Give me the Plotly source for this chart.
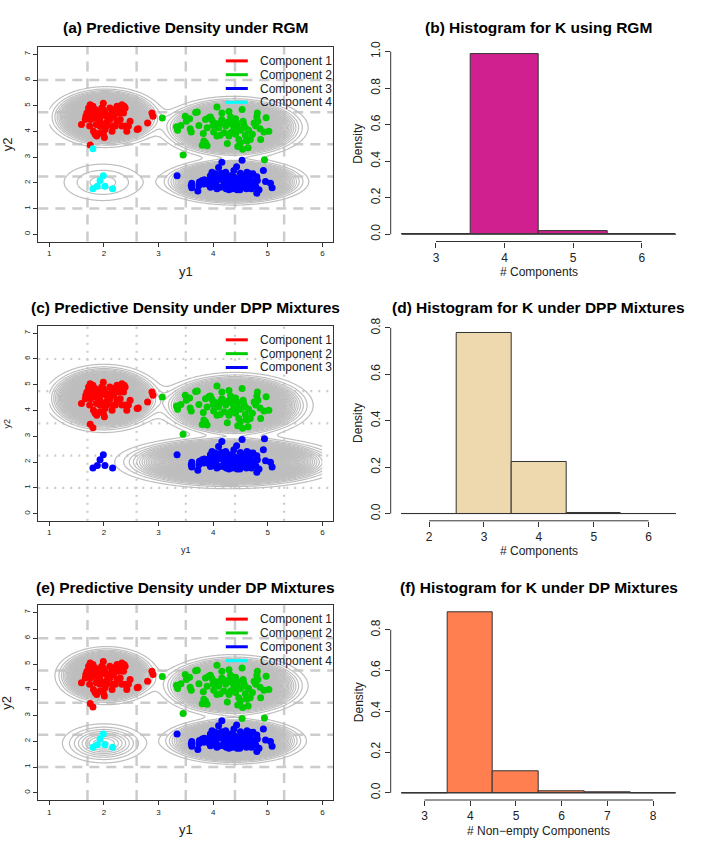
import numpy as np
import plotly.graph_objects as go

# ---- observed data (y1, y2), same points in all three scatter panels ----
red_y1 = [1.59, 1.67, 1.69, 1.72, 1.75, 1.80, 1.81, 1.84, 1.87, 1.90, 1.93, 1.96, 1.99, 1.99, 2.02,
          2.05, 2.08, 2.11, 2.15, 2.18, 2.19, 2.21, 2.24, 2.27, 2.29, 2.30, 2.33, 2.36, 2.37, 2.39,
          2.42, 2.39, 2.45, 2.48, 2.63, 2.80, 2.88, 2.90, 1.75, 1.81, 1.84, 1.87, 1.99, 2.01, 2.15,
          2.16, 1.76, 1.66, 1.74, 1.93, 2.05, 1.90, 1.96, 2.24, 2.11, 1.86, 1.78, 2.02, 2.33, 1.93,
          2.61, 1.96, 2.05, 1.85, 2.13]
red_y2 = [4.27, 4.59, 4.72, 4.91, 5.04, 4.98, 4.78, 4.85, 4.65, 4.53, 4.40, 4.27, 5.10, 4.85, 4.72,
          4.59, 4.46, 4.91, 4.78, 4.59, 4.85, 4.21, 4.40, 4.72, 4.91, 4.46, 5.04, 4.72, 4.98, 4.21,
          4.01, 4.91, 4.21, 4.40, 4.10, 4.33, 4.72, 4.59, 3.47, 4.01, 3.89, 3.82, 3.89, 3.76, 4.01,
          4.21, 4.46, 4.46, 4.21, 4.21, 4.21, 4.78, 4.91, 4.98, 4.46, 4.27, 4.65, 4.08, 4.21, 3.95,
          4.08, 4.62, 4.35, 4.52, 4.65]

green_y1 = [3.07, 3.33, 3.35, 3.41, 3.49, 3.51, 3.57, 3.58, 3.60, 3.68, 3.74, 3.82, 3.86, 3.89, 3.92,
            3.95, 3.98, 4.00, 4.04, 4.07, 4.10, 4.13, 4.13, 4.16, 4.16, 4.20, 4.23, 4.26, 4.29, 4.29,
            4.32, 4.32, 4.35, 4.35, 4.38, 4.41, 4.44, 4.44, 4.47, 4.50, 4.50, 4.53, 4.55, 4.56, 4.59,
            4.59, 4.61, 4.62, 4.65, 4.68, 4.72, 4.75, 4.78, 4.80, 4.81, 4.82, 4.86, 4.87, 4.93, 5.02,
            3.86, 3.89, 3.80, 3.83, 4.01, 4.07, 4.26, 4.45, 4.54, 4.64, 4.41, 3.45, 3.71, 4.97]
green_y2 = [4.52, 4.18, 4.05, 4.23, 4.59, 4.40, 4.49, 4.10, 3.98, 4.74, 4.23, 3.92, 4.46, 4.14, 4.53,
            4.56, 4.44, 4.23, 4.31, 4.95, 4.14, 4.33, 3.85, 4.72, 4.46, 3.95, 4.21, 4.36, 4.78, 3.82,
            4.56, 3.95, 4.27, 4.46, 4.10, 3.89, 4.33, 4.21, 3.69, 4.05, 3.56, 4.85, 4.40, 4.27, 3.85,
            4.14, 3.67, 3.63, 4.05, 3.69, 3.89, 4.33, 4.21, 4.56, 4.72, 4.40, 4.10, 3.69, 3.98, 4.01,
            3.56, 3.44, 3.46, 3.63, 3.98, 3.82, 3.53, 3.41, 3.31, 3.37, 4.49, 3.08, 4.76, 4.53]

blue_y1 = [3.34, 3.61, 3.61, 3.72, 3.75, 3.80, 3.83, 3.84, 3.95, 3.98, 4.00, 4.01, 4.04, 4.06, 4.09,
           4.10, 4.13, 4.16, 4.16, 4.20, 4.23, 4.24, 4.26, 4.29, 4.32, 4.35, 4.37, 4.38, 4.41, 4.43,
           4.44, 4.47, 4.50, 4.51, 4.55, 4.56, 4.59, 4.61, 4.62, 4.65, 4.68, 4.70, 4.73, 4.75, 4.78,
           4.81, 4.84, 4.92, 4.96, 5.05, 5.08, 3.74, 3.89, 3.92, 3.95, 4.07, 4.12, 4.15, 4.21, 4.29,
           4.33, 4.39, 4.45, 4.49, 4.57, 4.64, 4.67, 4.72, 4.80, 4.21, 4.02, 3.95, 4.32, 4.53, 4.44,
           4.80, 3.60]
blue_y2 = [2.28, 1.99, 1.81, 1.68, 2.03, 2.09, 1.96, 2.12, 2.28, 2.41, 2.19, 2.03, 2.35, 1.90, 2.12,
           2.60, 1.83, 2.80, 2.24, 1.99, 2.41, 1.77, 2.16, 1.96, 2.28, 1.77, 2.09, 2.48, 1.90, 2.63,
           1.73, 2.16, 2.37, 1.99, 1.83, 2.24, 2.09, 1.77, 2.41, 1.96, 2.19, 1.77, 2.35, 2.03, 1.86,
           2.09, 1.73, 2.48, 2.05, 1.99, 1.81, 1.90, 2.09, 1.94, 1.83, 1.77, 2.16, 2.37, 2.22, 1.73,
           2.09, 2.22, 1.94, 1.73, 1.94, 2.16, 2.35, 1.90, 2.24, 1.83, 1.86, 2.16, 1.86, 2.16, 2.03,
           1.60, 1.90]

small_y1 = [1.99, 1.93, 1.88, 1.80, 2.02, 2.16]
small_y2 = [2.28, 2.09, 1.87, 1.77, 1.87, 1.77]

odd_y1 = [1.80, 4.94, 4.53]
odd_y2 = [3.33, 2.90, 2.88]
odd_rgm = [4, 2, 3]
odd_dpp = [1, 3, 3]
odd_dp = [1, 2, 2]

# ---- fitted predictive mixtures (weights, means, sds) ----
rgm_w = [0.27, 0.37, 0.28, 0.014]
rgm_mx = [2.03, 4.37, 4.38, 1.98]
rgm_my = [4.56, 4.15, 2.05, 2.02]
rgm_sx = [0.35, 0.45, 0.45, 0.45]
rgm_sy = [0.39, 0.40, 0.30, 0.45]

dpp_w = [0.325, 0.41, 0.486]
dpp_mx = [2.00, 4.40, 4.30]
dpp_my = [4.47, 4.20, 2.00]
dpp_sx = [0.36, 0.47, 0.69]
dpp_sy = [0.435, 0.42, 0.34]

dp_w = [0.24, 0.37, 0.27, 0.024]
dp_mx = [2.05, 4.37, 4.37, 2.00]
dp_my = [4.55, 4.15, 2.02, 1.92]
dp_sx = [0.31, 0.45, 0.44, 0.36]
dp_sy = [0.37, 0.40, 0.30, 0.36]

grid_x = [1.7, 2.6, 3.5, 4.4, 5.3]
grid_y = [1.0, 2.25, 3.5, 4.75, 6.0]

# ---- histograms of K ----
rgm_breaks = [2.5, 3.5, 4.5, 5.5, 6.5]
rgm_dens = [0.0, 0.985, 0.015, 0.0]
dpp_breaks = [1.5, 2.5, 3.5, 4.5, 5.5, 6.5]
dpp_dens = [0.0, 0.777, 0.221, 0.002, 0.0]
dp_breaks = [2.5, 3.5, 4.5, 5.5, 6.5, 7.5, 8.5]
dp_dens = [0.0, 0.885, 0.108, 0.006, 0.001, 0.0]

comp_cols = ["#FF0000", "#00CD00", "#0000FF", "#00FFFF"]
FONT = "Liberation Sans, Arial, sans-serif"
W, H = 706, 847

all_y1 = red_y1 + green_y1 + blue_y1 + small_y1 + odd_y1
all_y2 = red_y2 + green_y2 + blue_y2 + small_y2 + odd_y2
base = [1] * len(red_y1) + [2] * len(green_y1) + [3] * len(blue_y1)
lab_rgm = base + [4] * len(small_y1) + odd_rgm
lab_dpp = base + [3] * len(small_y1) + odd_dpp
lab_dp = base + [4] * len(small_y1) + odd_dp

gx = np.linspace(1, 6, 251)
gy = np.linspace(0, 7, 351)
GX, GY = np.meshgrid(gx, gy)


def mix_density(w, mx, my, sx, sy):
    z = np.zeros_like(GX)
    for a, b, c, d, e in zip(w, mx, my, sx, sy):
        z += a / (2 * np.pi * d * e) * np.exp(-0.5 * (((GX - b) / d) ** 2 + ((GY - c) / e) ** 2))
    return z


def px_x(p):
    return p / W


def px_y(p):
    return 1 - p / H


fig = go.Figure()

rows = [(38.5, 235.0), (320.4, 517.3), (602.7, 799.5)]
left_dom = [px_x(38.3), px_x(333.3)]
right_dom = [px_x(390.7), px_x(687.0)]

left_panels = [
    ("(a) Predictive Density under RGM", lab_rgm, (rgm_w, rgm_mx, rgm_my, rgm_sx, rgm_sy), 4, "10px,7px", 2.5, 13),
    ("(c) Predictive Density under DPP Mixtures", lab_dpp, (dpp_w, dpp_mx, dpp_my, dpp_sx, dpp_sy), 3, "2px,6px", 2.2, 9),
    ("(e) Predictive Density under DP Mixtures", lab_dp, (dp_w, dp_mx, dp_my, dp_sx, dp_sy), 4, "10px,7px", 2.5, 13),
]
right_panels = [
    ("(b) Histogram for K using RGM", rgm_breaks, rgm_dens, "#D02090", [3, 4, 5, 6], [0, 0.2, 0.4, 0.6, 0.8, 1.0], "# Components"),
    ("(d) Histogram for K under DPP Mixtures", dpp_breaks, dpp_dens, "#EED8AE", [2, 3, 4, 5, 6], [0, 0.2, 0.4, 0.6, 0.8], "# Components"),
    ("(f) Histogram for K under DP Mixtures", dp_breaks, dp_dens, "#FF7F50", [3, 4, 5, 6, 7, 8], [0, 0.2, 0.4, 0.6, 0.8], "# Non\u2212empty Components"),
]

annotations = []
shapes = []
layout = {}
leg_rows = [0.929, 0.858, 0.787, 0.716]
title_y = [19, 301.5, 585]

for i, (title, labs, pars, K, dash, lw, lab_size) in enumerate(left_panels):
    n = 2 * i + 1
    xa, ya = ("x" if n == 1 else "x%d" % n), ("y" if n == 1 else "y%d" % n)
    top, bot = rows[i]
    layout["xaxis" if n == 1 else "xaxis%d" % n] = dict(
        domain=left_dom, anchor=ya, range=[0.8, 6.2], tickvals=[1, 2, 3, 4, 5, 6],
        showline=True, mirror=True, linecolor="#333", linewidth=1, ticks="outside",
        ticklen=4, tickcolor="#333", showgrid=False, zeroline=False,
        tickfont=dict(size=8, color="#222", family=FONT))
    layout["yaxis" if n == 1 else "yaxis%d" % n] = dict(
        domain=[px_y(bot), px_y(top)], anchor=xa, range=[-0.28, 7.28], tickvals=list(range(8)),
        showline=True, mirror=True, linecolor="#333", linewidth=1, ticks="outside",
        ticklen=4, tickcolor="#333", showgrid=False, zeroline=False, tickangle=-90,
        tickfont=dict(size=8, color="#222", family=FONT))

    for g in grid_x:
        shapes.append(dict(type="line", xref=xa, yref=ya + " domain", x0=g, x1=g, y0=0, y1=1,
                           line=dict(color="#CCCCCC", width=lw, dash=dash), layer="below"))
    for g in grid_y:
        shapes.append(dict(type="line", xref=xa + " domain", yref=ya, x0=0, x1=1, y0=g, y1=g,
                           line=dict(color="#CCCCCC", width=lw, dash=dash), layer="below"))

    z = mix_density(*pars)
    step = 0.0032
    fig.add_trace(go.Contour(
        x=gx, y=gy, z=z, xaxis=xa, yaxis=ya, showscale=False, hoverinfo="skip",
        contours=dict(coloring="lines", start=step, end=float(z.max()), size=step, showlabels=False),
        colorscale=[[0, "#BEBEBE"], [1, "#BEBEBE"]], line=dict(width=1.2, smoothing=1)))

    for k in range(1, K + 1):
        px_ = [a for a, l in zip(all_y1, labs) if l == k]
        py_ = [b for b, l in zip(all_y2, labs) if l == k]
        fig.add_trace(go.Scatter(
            x=px_, y=py_, mode="markers", xaxis=xa, yaxis=ya, showlegend=False, hoverinfo="skip",
            marker=dict(symbol="circle", size=7, color=comp_cols[k - 1], line=dict(width=0))))

    for k in range(K):
        shapes.append(dict(type="line", xref=xa + " domain", yref=ya + " domain",
                           x0=0.6356, x1=0.7102, y0=leg_rows[k], y1=leg_rows[k],
                           line=dict(color=comp_cols[k], width=3)))
        annotations.append(dict(text="Component %d" % (k + 1), xref=xa + " domain", yref=ya + " domain",
                                x=0.7441, y=leg_rows[k], xanchor="left", yanchor="middle", showarrow=False,
                                font=dict(size=12, color="#222", family=FONT)))

    annotations.append(dict(text="<b>%s</b>" % title, xref="paper", yref="paper", x=px_x(185.8),
                            y=px_y(title_y[i]), xanchor="center", yanchor="middle", showarrow=False,
                            font=dict(size=15.5, color="#000", family=FONT)))
    annotations.append(dict(text="y1", xref="paper", yref="paper", x=px_x(185.8), y=px_y(bot + 30),
                            xanchor="center", yanchor="middle", showarrow=False,
                            font=dict(size=lab_size, color="#222", family=FONT)))
    annotations.append(dict(text="y2", xref="paper", yref="paper", x=px_x(7), y=px_y((top + bot) / 2),
                            xanchor="center", yanchor="middle", showarrow=False, textangle=-90,
                            font=dict(size=lab_size, color="#222", family=FONT)))

for i, (title, breaks, dens, col, xt, yt, xlab) in enumerate(right_panels):
    n = 2 * i + 2
    xa, ya = "x%d" % n, "y%d" % n
    top, bot = rows[i]
    span = breaks[-1] - breaks[0]
    ymax = max(dens)
    layout["xaxis%d" % n] = dict(
        domain=right_dom, anchor=ya, range=[breaks[0] - 0.04 * span, breaks[-1] + 0.04 * span],
        tickvals=xt, showline=False, ticks="outside", ticklen=5, tickcolor="#333",
        showgrid=False, zeroline=False, tickfont=dict(size=12, color="#222", family=FONT))
    layout["yaxis%d" % n] = dict(
        domain=[px_y(bot), px_y(top)], anchor=xa, range=[-0.04 * ymax, 1.04 * ymax],
        tickvals=yt, ticktext=["%.1f" % v for v in yt], showline=False, ticks="outside",
        ticklen=5, tickcolor="#333", showgrid=False, zeroline=False, tickangle=-90,
        tickfont=dict(size=12, color="#222", family=FONT))
    # R-style detached axis lines
    shapes.append(dict(type="line", xref=xa, yref=ya + " domain", x0=xt[0], x1=xt[-1], y0=0, y1=0,
                       line=dict(color="#333", width=1)))
    shapes.append(dict(type="line", xref=xa + " domain", yref=ya, x0=0, x1=0, y0=yt[0], y1=yt[-1],
                       line=dict(color="#333", width=1)))

    fig.add_trace(go.Scatter(x=[breaks[0], breaks[-1]], y=[0, 0], mode="lines", xaxis=xa, yaxis=ya,
                             showlegend=False, hoverinfo="skip", line=dict(color="#333", width=1)))
    centers = [(a + b) / 2 for a, b in zip(breaks[:-1], breaks[1:])]
    fig.add_trace(go.Bar(x=centers, y=dens, width=1.0, xaxis=xa, yaxis=ya, showlegend=False,
                         marker=dict(color=col, line=dict(color="#333", width=1))))

    annotations.append(dict(text="<b>%s</b>" % title, xref="paper", yref="paper", x=px_x(538.9),
                            y=px_y(title_y[i]), xanchor="center", yanchor="middle", showarrow=False,
                            font=dict(size=15.5, color="#000", family=FONT)))
    annotations.append(dict(text=xlab, xref="paper", yref="paper", x=px_x(538.9), y=px_y(bot + 31),
                            xanchor="center", yanchor="middle", showarrow=False,
                            font=dict(size=12, color="#222", family=FONT)))
    annotations.append(dict(text="Density", xref="paper", yref="paper", x=px_x(358.5),
                            y=px_y((top + bot) / 2), xanchor="center", yanchor="middle",
                            showarrow=False, textangle=-90, font=dict(size=12, color="#222", family=FONT)))

fig.update_layout(
    width=W, height=H, margin=dict(l=0, r=0, t=0, b=0), autosize=False,
    paper_bgcolor="white", plot_bgcolor="white", bargap=0,
    font=dict(family=FONT), annotations=annotations, shapes=shapes, **layout)

fig.write_html("out.html", config={"displayModeBar": False},
               post_script="document.body.style.margin='0';")
